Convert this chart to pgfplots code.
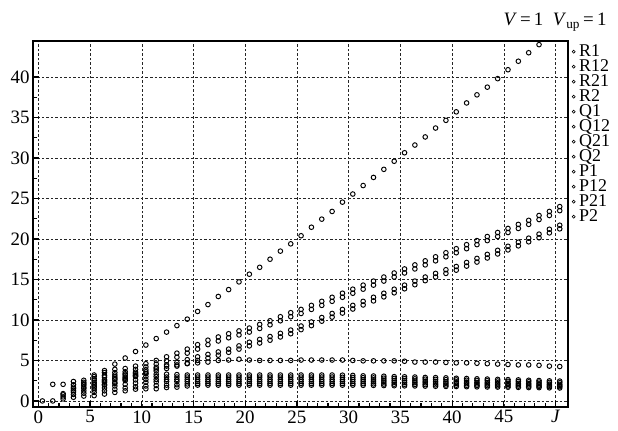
\documentclass[border=0pt]{standalone}
\usepackage{fontspec}
\setmainfont{Liberation Serif}
\usepackage{pgfplots}
\usepackage{pgfplotstable}
\pgfplotsset{compat=1.18}
\pgfplotstableread{
J A U1 U2 L1 L2 F C1 C2 C3 C4 C5 C6
0.4 0 nan nan nan nan nan nan nan nan nan nan nan
1.4 nan 2.05 nan nan nan nan nan nan nan nan nan 0
2.4 0.9 2.05 nan nan nan nan nan nan nan 0.75 0.5 0.25
3.4 1.7 2.4 2.0 nan nan 1.3 nan nan 1.5 1.1 0.8 0.45
4.4 2.3 2.55 2.1 nan nan 1.7 nan 1.95 1.55 1.25 0.95 0.6
5.4 3.0 3.2 2.75 2.1 1.6 1.95 2.55 2.3 1.75 1.35 1.05 0.65
6.4 3.75 3.5 3.15 2.45 1.95 2.3 2.95 2.6 2.05 1.6 1.25 0.85
7.4 4.55 3.9 3.5 2.95 2.15 2.6 3.2 2.75 2.3 1.85 1.45 1.05
8.4 5.3 4.0 3.6 3.2 2.65 2.8 3.35 2.95 2.5 2.05 1.6 1.25
9.4 6.1 4.3 3.9 3.55 3.1 3.2 3.35 3.0 2.6 2.2 1.75 1.45
10.4 6.9 4.6 4.2 3.85 3.4 3.6 3.35 3.0 2.65 2.3 1.85 1.5
11.4 7.7 5.0 4.55 4.15 3.7 3.95 3.3 3.0 2.65 2.35 1.9 1.5
12.4 8.5 5.45 4.95 4.45 4.0 4.3 3.3 2.95 2.65 2.4 1.95 1.65
13.4 9.3 5.9 5.4 4.75 4.3 4.45 3.25 2.95 2.65 2.4 2.0 1.7
14.4 10.1 6.4 5.9 5.1 4.65 4.6 3.2 2.95 2.65 2.4 2.1 1.85
15.4 11.05 6.95 6.4 5.45 5.0 4.7 3.2 2.95 2.65 2.4 2.15 1.95
16.4 11.9 7.5 6.95 5.75 5.3 4.8 3.2 2.95 2.65 2.4 2.15 1.95
17.4 12.9 7.9 7.4 6.05 5.65 5.0 3.2 2.95 2.65 2.4 2.15 1.95
18.4 13.75 8.3 7.8 6.4 6.0 5.05 3.2 2.95 2.65 2.4 2.15 1.95
19.4 14.7 8.65 8.15 6.8 6.4 5.15 3.2 2.95 2.65 2.4 2.15 1.95
20.4 15.65 9.0 8.5 7.25 6.8 5.05 3.2 2.95 2.65 2.4 2.15 1.95
21.4 16.5 9.45 8.95 7.6 7.15 5.0 3.2 2.95 2.65 2.4 2.15 1.95
22.4 17.5 9.9 9.4 7.95 7.5 5.0 3.2 2.95 2.65 2.4 2.15 1.95
23.4 18.5 10.4 9.9 8.35 7.9 5.0 3.2 2.95 2.65 2.4 2.15 1.95
24.4 19.4 10.9 10.4 8.75 8.3 5.0 3.2 2.95 2.65 2.4 2.15 1.95
25.4 20.4 11.3 10.8 9.25 8.8 5.05 3.2 2.95 2.65 2.4 2.15 1.95
26.4 21.45 11.8 11.3 9.75 9.3 5.05 3.2 2.95 2.65 2.4 2.15 1.95
27.4 22.45 12.3 11.8 10.3 9.85 5.05 3.2 2.95 2.65 2.4 2.15 1.95
28.4 23.4 12.8 12.3 10.8 10.35 5.05 3.2 2.95 2.65 2.4 2.15 1.95
29.4 24.55 13.3 12.8 11.3 10.85 5.05 3.18 2.92 2.65 2.4 2.15 1.95
30.4 25.55 13.8 13.3 11.8 11.35 5.0 3.15 2.9 2.65 2.4 2.15 1.95
31.4 26.6 14.3 13.8 12.3 11.85 4.95 3.10 2.87 2.62 2.38 2.13 1.93
32.4 27.6 14.8 14.3 12.8 12.35 4.95 3.08 2.84 2.59 2.35 2.11 1.92
33.4 28.6 15.3 14.8 13.3 12.85 4.95 3.05 2.81 2.56 2.33 2.09 1.90
34.4 29.6 15.8 15.3 13.8 13.35 4.95 3.0 2.78 2.53 2.3 2.07 1.88
35.4 30.65 16.3 15.8 14.3 13.85 4.9 2.98 2.75 2.5 2.28 2.05 1.86
36.4 31.6 16.8 16.3 14.8 14.35 4.8 2.95 2.72 2.47 2.25 2.03 1.85
37.4 32.6 17.3 16.8 15.3 14.85 4.8 2.9 2.69 2.44 2.23 2.01 1.83
38.4 33.7 17.8 17.3 15.75 15.3 4.8 2.88 2.66 2.41 2.2 1.99 1.81
39.4 34.65 18.3 17.8 16.2 15.75 4.75 2.85 2.63 2.38 2.18 1.97 1.79
40.4 35.7 18.8 18.3 16.6 16.15 4.7 2.8 2.6 2.35 2.15 1.95 1.78
41.4 36.8 19.3 18.8 17.1 16.65 4.7 2.77 2.56 2.32 2.13 1.93 1.76
42.4 37.8 19.8 19.3 17.6 17.15 4.65 2.73 2.53 2.29 2.1 1.91 1.74
43.4 38.75 20.3 19.8 18.1 17.65 4.6 2.7 2.5 2.26 2.08 1.89 1.72
44.4 39.8 20.8 20.3 18.6 18.15 4.55 2.66 2.46 2.23 2.05 1.87 1.71
45.4 40.9 21.3 20.8 19.1 18.65 4.5 2.63 2.43 2.2 2.03 1.85 1.69
46.4 41.95 21.8 21.3 19.6 19.15 4.45 2.6 2.4 2.17 2.0 1.83 1.67
47.4 43.0 22.3 21.8 20.1 19.65 4.45 2.55 2.36 2.14 1.98 1.81 1.65
48.4 44.0 22.9 22.4 20.6 20.15 4.4 2.52 2.33 2.11 1.95 1.79 1.64
49.4 45.0 23.4 22.9 21.2 20.75 4.3 2.48 2.29 2.08 1.93 1.77 1.62
50.4 46.0 24.0 23.5 21.7 21.25 4.25 2.45 2.25 2.05 1.9 1.75 1.6
}\data
\begin{document}
\begin{tikzpicture}
\begin{axis}[name=ax, scale only axis, width=535bp, height=366bp,
  xmin=-0.51, xmax=51.2, ymin=-0.75, ymax=44.45,
  axis line style={line width=1.5bp, black},
  xtick={0,5,...,50}, xticklabels={0,5,10,15,20,25,30,35,40,45,\textit{J}},
  minor x tick num=4,
  ytick={0,5,...,40}, minor y tick num=1,
  tick align=inside, xtick pos=bottom, ytick pos=left,
  major tick length=6bp, minor tick length=4bp,
  tick style={line width=1.2bp, black},
  grid=major, major grid style={line width=0.4bp, black!85, dash pattern=on 2.5bp off 2bp},
  ticklabel style={font=\fontsize{19}{19}\selectfont},
  /pgf/number format/assume math mode=true,
  dots/.style={black, mark=o, only marks, mark size=2.3bp, line width=0.95bp, mark options={solid, fill=white}},
  legend style={at={(rel axis cs:1,1)}, anchor=north west, xshift=4bp, yshift=-3.7bp,
    draw=none, fill=none, inner sep=0pt, font=\fontsize{18}{18}\selectfont,
    nodes={inner sep=0pt, text height=12bp, text depth=1.5bp}, row sep=1.5bp,
    /tikz/every odd column/.append style={column sep=4bp}},
  legend cell align=left,
  legend image code/.code={\draw[mark size=1.5bp, line width=0.6bp] plot coordinates {(2bp,0bp)};},
]
\addplot[dots] table[x=J,y=A]{\data};
\addplot[dots] table[x=J,y=U1]{\data};
\addplot[dots] table[x=J,y=U2]{\data};
\addplot[dots] table[x=J,y=L1]{\data};
\addplot[dots] table[x=J,y=L2]{\data};
\addplot[dots] table[x=J,y=F]{\data};
\addplot[dots] table[x=J,y=C1]{\data};
\addplot[dots] table[x=J,y=C2]{\data};
\addplot[dots] table[x=J,y=C3]{\data};
\addplot[dots] table[x=J,y=C4]{\data};
\addplot[dots] table[x=J,y=C5]{\data};
\addplot[dots] table[x=J,y=C6]{\data};
\legend{R1,R12,R21,R2,Q1,Q12,Q21,Q2,P1,P12,P21,P2}
\end{axis}
\node[anchor=base east, font=\fontsize{19}{19}\selectfont] at ([xshift=42bp,yshift=15bp]ax.north east) {\textit{V}\,=\,1\enspace\textit{V}\textsubscript{up}\,=\,1};
\pgfresetboundingbox
\path[use as bounding box] ([shift={(-33bp,-24bp)}]ax.south west) rectangle ([shift={(585bp,407bp)}]ax.south west);
\end{tikzpicture}
\end{document}
